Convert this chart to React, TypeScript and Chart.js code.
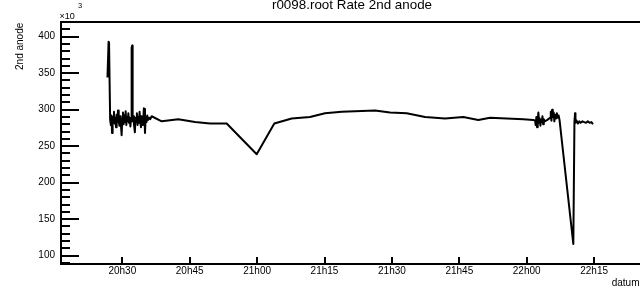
import { useEffect, useRef } from "react";
import { Chart, registerables } from "chart.js";

Chart.register(...registerables);

// minutes after 20:00
const times = [
  26.7, 26.95, 27.05, 27.3, 27.45, 27.6, 27.72, 27.85, 28.0, 28.15, 28.3, 28.45, 28.6, 28.75, 28.9,
  29.05, 29.2, 29.35, 29.5, 29.65, 29.85, 30.0, 30.15, 30.3, 30.45, 30.6, 30.75, 30.9, 31.05, 31.2,
  31.35, 31.5, 31.65, 31.8, 31.95, 32.08, 32.2, 32.3, 32.45, 32.6, 32.8, 32.95, 33.1, 33.25, 33.4,
  33.55, 33.7, 33.85, 34.0, 34.15, 34.3, 34.45, 34.6, 34.8, 34.9, 35.05, 35.2, 35.4, 35.55, 35.75,
  35.95, 36.2, 36.54, 38.77, 42.46, 46.18, 49.52, 53.23, 59.91, 63.83, 67.7, 71.77, 75.11, 78.83,
  86.24, 89.58, 93.3, 97.37, 101.82, 105.89, 109.23, 111.83, 115.55, 119.24, 121.47, 121.85, 122.0,
  122.15, 122.3, 122.45, 122.6, 122.75, 122.9, 123.05, 123.2, 123.35, 123.5, 123.65, 123.8, 124.0,
  124.6, 125.2, 125.35, 125.5, 125.65, 125.8, 126.0, 126.15, 126.3, 126.5, 126.7, 126.9, 127.1,
  127.3, 130.37, 130.62, 130.75, 130.85, 131.1, 131.4, 131.7, 132.0, 132.4, 132.8, 133.2, 133.6,
  134.0, 134.4, 134.75,
];

// rate of 2nd anode, in units of 10^3
const rates = [
  344, 393, 392, 286, 279, 292, 268, 290, 284, 297, 281, 289, 276, 293, 283,
  299, 285, 278, 291, 284, 265, 288, 296, 280, 292, 283, 298, 279, 290, 284,
  295, 282, 289, 277, 287, 385, 388, 284, 291, 280, 269, 289, 283, 295, 279,
  290, 282, 297, 284, 276, 291, 285, 279, 302, 301, 268, 290, 283, 292, 286,
  289, 287, 291, 284, 287, 283, 281, 281, 239, 281, 288, 290, 295, 297,
  299, 296, 295, 290, 288, 290, 286, 289, 288, 287, 286, 285, 279,
  290, 276, 287, 296, 282, 288, 278, 286, 283, 291, 280, 287, 284,
  286, 289, 297, 285, 300, 290, 296, 284, 293, 288, 295, 289, 292,
  286, 116, 283, 295, 282, 285, 281, 284, 282, 284, 283, 282, 284,
  282, 283, 280,
];

const xTickMinutes = [30, 45, 60, 75, 90, 105, 120, 135];
const xTickLabels = ["20h30", "20h45", "21h00", "21h15", "21h30", "21h45", "22h00", "22h15"];
const yTickValues = [100, 150, 200, 250, 300, 350, 400];

const chartTitle = "r0098.root Rate 2nd anode";
const yTitle = "2nd anode";
const xTitle = "datum";

const FONT = "'Liberation Sans', Arial, Helvetica, sans-serif";

export default function App() {
  const ref = useRef<HTMLCanvasElement>(null);

  useEffect(() => {
    document.body.style.margin = "0";
    const canvas = ref.current;
    if (!canvas) return;

    const framePlugin = {
      id: "rootFrame",
      afterDraw(chart: any) {
        const { ctx, chartArea: a, scales } = chart;
        const xs = scales.x;
        const ys = scales.y;
        ctx.save();
        ctx.strokeStyle = "#000";
        ctx.lineWidth = 2;
        ctx.lineCap = "butt";
        ctx.beginPath();
        ctx.moveTo(a.left, a.top);
        ctx.lineTo(a.right, a.top);
        ctx.moveTo(a.left, a.top - 1);
        ctx.lineTo(a.left, a.bottom + 1);
        ctx.moveTo(a.left - 1, a.bottom);
        ctx.lineTo(a.right, a.bottom);
        const vStart = Math.ceil(ys.min / 10);
        const vEnd = Math.floor(ys.max / 10);
        for (let k = vStart; k <= vEnd; k++) {
          const v = k * 10;
          const py = Math.round(ys.getPixelForValue(v));
          const major = yTickValues.includes(v);
          ctx.moveTo(a.left, py);
          ctx.lineTo(a.left + (major ? 18 : 9), py);
        }
        xTickMinutes.forEach((m) => {
          const px = Math.round(xs.getPixelForValue(m));
          ctx.moveTo(px, a.bottom);
          ctx.lineTo(px, a.bottom - 7);
        });
        ctx.stroke();

        ctx.fillStyle = "#000";
        // title
        ctx.font = `13.4px ${FONT}`;
        ctx.textAlign = "center";
        ctx.textBaseline = "alphabetic";
        ctx.fillText(chartTitle, 352, 8.5);
        // x10^3
        ctx.textAlign = "left";
        ctx.font = `9px ${FONT}`;
        ctx.fillText("\u00d710", 59.5, 19);
        ctx.font = `7.5px ${FONT}`;
        ctx.fillText("3", 78, 7.5);
        // x title
        ctx.font = `10px ${FONT}`;
        ctx.textAlign = "right";
        ctx.fillText(xTitle, 639.5, 285.5);
        // y title
        ctx.translate(22.5, 22.7);
        ctx.rotate(-Math.PI / 2);
        ctx.textAlign = "right";
        ctx.fillText(yTitle, 0, 0);
        ctx.restore();
      },
    };

    const chart = new Chart(canvas, {
      type: "line",
      data: {
        datasets: [
          {
            data: times.map((t, i) => ({ x: t, y: rates[i] })),
            borderColor: "#000",
            borderWidth: 2,
            pointRadius: 0,
            tension: 0,
            fill: false,
            borderJoinStyle: "round",
          },
        ],
      },
      options: {
        animation: false,
        responsive: false,
        events: [],
        layout: { padding: { top: 22, left: 0, right: 0, bottom: 0 } },
        plugins: {
          legend: { display: false },
          tooltip: { enabled: false },
          title: { display: false },
        },
        scales: {
          x: {
            type: "linear",
            min: 16.36,
            max: 145.21,
            afterFit: (s: any) => {
              s.height = 23;
            },
            afterBuildTicks: (s: any) => {
              s.ticks = xTickMinutes.map((v) => ({ value: v }));
            },
            ticks: {
              callback: (v: any) => {
                const i = xTickMinutes.indexOf(Number(v));
                return i >= 0 ? xTickLabels[i] : "";
              },
              font: { family: FONT, size: 10 },
              color: "#000",
              padding: 1,
              maxRotation: 0,
              autoSkip: false,
            },
            grid: { display: false, drawTicks: false },
            border: { display: false },
          },
          y: {
            type: "linear",
            min: 88.6,
            max: 420.1,
            afterFit: (s: any) => {
              s.width = 61;
            },
            afterBuildTicks: (s: any) => {
              s.ticks = yTickValues.map((v) => ({ value: v }));
            },
            ticks: {
              callback: (v: any) => String(v),
              font: { family: FONT, size: 10 },
              color: "#000",
              padding: 6,
              autoSkip: false,
            },
            grid: { display: false, drawTicks: false },
            border: { display: false },
          },
        },
      },
      plugins: [framePlugin],
    } as any);

    return () => chart.destroy();
  }, []);

  return (
    <div style={{ position: "fixed", left: 0, top: 0, width: 640, height: 287, background: "#fff" }}>
      <canvas ref={ref} width={640} height={287} style={{ display: "block" }} />
    </div>
  );
}
